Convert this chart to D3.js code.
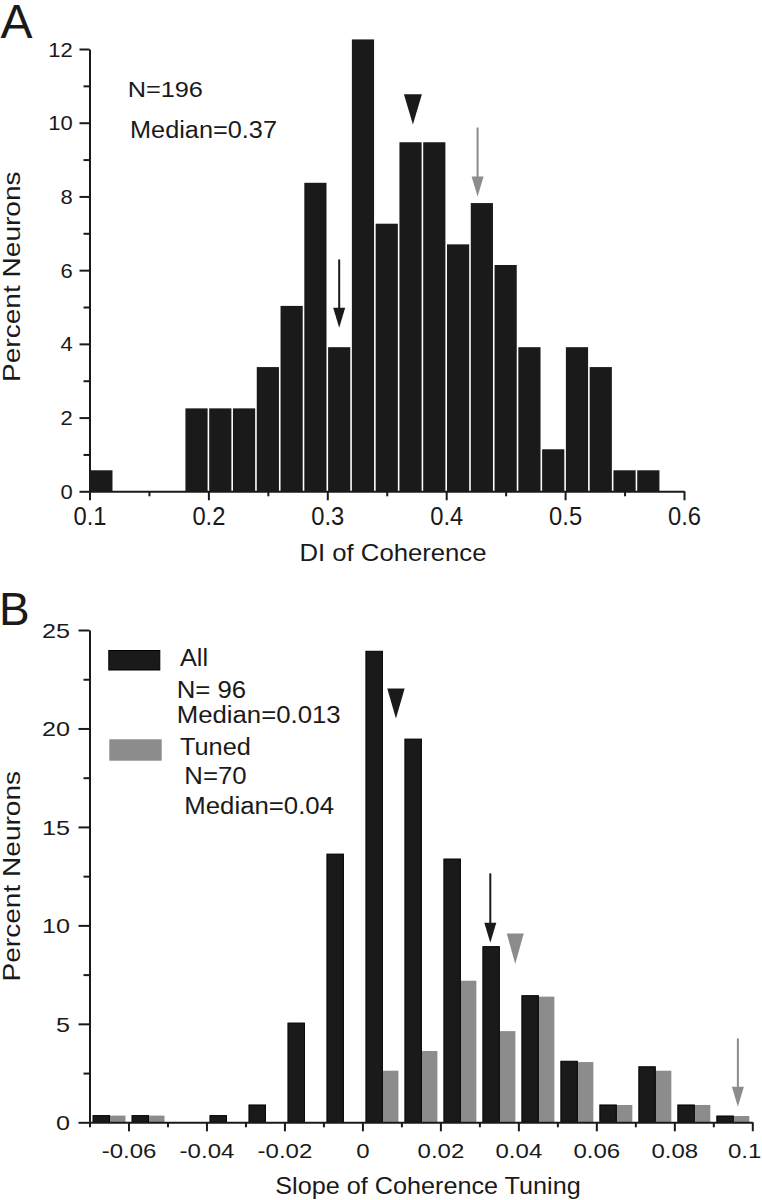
<!DOCTYPE html>
<html>
<head>
<meta charset="utf-8">
<script src="https://cdn.jsdelivr.net/npm/d3@7"></script>
<style>
  html, body { margin: 0; padding: 0; background: #fff; }
  svg { display: block; }
  text { font-family: "Liberation Sans", Arial, Helvetica, sans-serif; fill: #1a1a1a; }
</style>
</head>
<body>
<svg id="chart" width="762" height="1200"></svg>
<script>
// ---------------- Panel A data ----------------
const binStartsA = [0.10,0.12,0.14,0.16,0.18,0.20,0.22,0.24,0.26,0.28,0.30,0.32,0.34,0.36,0.38,0.40,0.42,0.44,0.46,0.48,0.50,0.52,0.54,0.56];
const percentA   = [0.57,0,0,0,2.25,2.25,2.25,3.37,5.03,8.37,3.91,12.26,7.26,9.47,9.47,6.70,7.82,6.14,3.91,1.14,3.91,3.37,0.57,0.57];
const binWidthA = 0.02;
const xTicksA = [0.1,0.2,0.3,0.4,0.5,0.6];
const xMinorA = [0.15,0.25,0.35,0.45,0.55];
const yTicksA = [0,2,4,6,8,10,12];
const yMinorA = [1,3,5,7,9,11];
const notesA = ["N=196", "Median=0.37"];
// markers: [x, yTop, yTip]
const triangleA = [0.372, 10.77, 9.95];
const blackArrowA = [0.31, 6.29, 4.44];
const grayArrowA = [0.4264, 9.87, 8.0];

// ---------------- Panel B data ----------------
const binStartsB = [-0.07,-0.06,-0.05,-0.04,-0.03,-0.02,-0.01,0,0.01,0.02,0.03,0.04,0.05,0.06,0.07,0.08,0.09];
const allB   = [0.34,0.34,0,0.34,0.88,5.04,13.62,23.92,19.46,13.37,8.92,6.43,3.10,0.88,2.82,0.88,0.32];
const tunedB = [0.34,0.34,0,0,0,0,0,2.62,3.62,7.19,4.63,6.38,3.06,0.88,2.62,0.88,0.32];
const binWidthB = 0.01;
const xTicksB = [-0.06,-0.04,-0.02,0,0.02,0.04,0.06,0.08,0.1];
const xMinorB = [-0.07,-0.05,-0.03,-0.01,0.01,0.03,0.05,0.07,0.09];
const yTicksB = [0,5,10,15,20,25];
const yMinorB = [2.5,7.5,12.5,17.5,22.5];
const legendB = [
  {name: "All", lines: ["N= 96", "Median=0.013"]},
  {name: "Tuned", lines: ["N=70", "Median=0.04"]}
];
const triangleAllB = [0.0086, 22.03, 20.5];
const triangleTunedB = [0.0392, 9.59, 8.04];
const blackArrowB = [0.0328, 12.64, 9.12];
const grayArrowB = [0.0963, 4.26, 0.79];

// ---------------- drawing ----------------
const BLACK = "#1a1a1a", GRAY = "#8c8c8c";
const svg = d3.select("#chart");

function stretch(sel, sx) {
  sel.each(function() {
    const L = this.getComputedTextLength();
    d3.select(this).attr("textLength", L * sx).attr("lengthAdjust", "spacingAndGlyphs");
  });
}
function addText(g, str, x, y, size, sx, anchor, rotate) {
  const t = g.append("text").text(str).attr("font-size", size)
    .attr("text-anchor", anchor || "start");
  if (rotate) t.attr("transform", `translate(${x},${y}) rotate(${rotate})`);
  else t.attr("x", x).attr("y", y);
  stretch(t, sx);
  return t;
}
function styleAxis(g, sw) {
  g.select(".domain").attr("stroke", BLACK).attr("stroke-width", sw);
  g.selectAll(".tick line").attr("stroke", BLACK).attr("stroke-width", sw);
}
function arrow(g, x, yTop, yTip, color) {
  const headL = 20, hw = 6;
  g.append("line").attr("x1", x).attr("x2", x).attr("y1", yTop).attr("y2", yTip - headL + 2)
    .attr("stroke", color).attr("stroke-width", 2);
  g.append("path").attr("d", `M${x-hw},${yTip-headL}L${x+hw},${yTip-headL}L${x},${yTip}Z`).attr("fill", color);
}
function triangle(g, x, yTop, yTip, color, hw) {
  g.append("path").attr("d", `M${x-hw},${yTop}L${x+hw},${yTop}L${x},${yTip}Z`).attr("fill", color);
}

// ===== Panel A =====
(function() {
  const x = d3.scaleLinear().domain([0.1, 0.6]).range([89.5, 684]);
  const y = d3.scaleLinear().domain([0, 12]).range([491.3, 49]);
  const g = svg.append("g");

  const bins = binStartsA.map((s, i) => ({s, v: percentA[i]})).filter(d => d.v > 0);
  g.selectAll("rect.bar").data(bins).enter().append("rect")
    .attr("x", d => x(d.s) + 0.8)
    .attr("width", d => x(d.s + binWidthA) - x(d.s) - 1.6)
    .attr("y", d => y(d.v))
    .attr("height", d => y(0) - y(d.v))
    .attr("fill", BLACK);

  // x axis
  const gx = g.append("g").attr("transform", `translate(0,${y(0)})`);
  gx.call(d3.axisBottom(x).tickValues(xTicksA).tickSize(9).tickSizeOuter(0).tickFormat(d3.format("")));
  styleAxis(gx, 2);
  gx.selectAll(".tick text").attr("y", 34).attr("dy", 0).attr("font-size", 25).attr("fill", BLACK)
    .attr("font-family", null).each(function(){ stretch(d3.select(this), 0.95); });
  const gxm = g.append("g").attr("transform", `translate(0,${y(0)})`);
  gxm.call(d3.axisBottom(x).tickValues(xMinorA).tickSize(5).tickFormat(""));
  gxm.select(".domain").remove();
  styleAxis(gxm, 2);

  // y axis
  const gy = g.append("g").attr("transform", `translate(${x(0.1)},0)`);
  gy.call(d3.axisLeft(y).tickValues(yTicksA).tickSize(10).tickSizeOuter(0));
  styleAxis(gy, 2);
  gy.selectAll(".tick text").attr("x", -16.8).attr("dy", "0.35em").attr("font-size", 20).attr("fill", BLACK)
    .attr("font-family", null).each(function(){ stretch(d3.select(this), 1.1); });
  const gym = g.append("g").attr("transform", `translate(${x(0.1)},0)`);
  gym.call(d3.axisLeft(y).tickValues(yMinorA).tickSize(6).tickFormat(""));
  gym.select(".domain").remove();
  styleAxis(gym, 2);

  // titles
  addText(g, "Percent Neurons", 20, 276.7, 23, 1.22, "middle", -90);
  addText(g, "DI of Coherence", 393, 560.7, 24, 1.07, "middle");
  addText(g, "A", 0.5, 38, 48, 1.0, "start");
  addText(g, notesA[0], 127.7, 97.3, 22, 1.15, "start");
  addText(g, notesA[1], 130, 138.3, 23, 1.1, "start");

  // markers
  triangle(g, x(triangleA[0]), y(triangleA[1]), y(triangleA[2]), BLACK, 9);
  arrow(g, x(blackArrowA[0]), y(blackArrowA[1]), y(blackArrowA[2]), BLACK);
  arrow(g, x(grayArrowA[0]), y(grayArrowA[1]), y(grayArrowA[2]), GRAY);
})();

// ===== Panel B =====
(function() {
  const x = d3.scaleLinear().domain([-0.07, 0.1]).range([89.5, 752.3]);
  const y = d3.scaleLinear().domain([0, 25]).range([1122.3, 630]);
  const g = svg.append("g");

  const bins = binStartsB.map((s, i) => ({s, a: allB[i], t: tunedB[i]}));
  // tuned (gray, right half)
  g.selectAll("rect.tuned").data(bins.filter(d => d.t > 0)).enter().append("rect")
    .attr("x", d => x(d.s + binWidthB / 2) + 0.5)
    .attr("width", d => x(d.s + binWidthB) - x(d.s + binWidthB / 2) - 3.5)
    .attr("y", d => y(d.t))
    .attr("height", d => y(0) - y(d.t))
    .attr("fill", GRAY);
  // all (black, left half)
  g.selectAll("rect.all").data(bins.filter(d => d.a > 0)).enter().append("rect")
    .attr("x", d => x(d.s) + 3.5)
    .attr("width", d => x(d.s + binWidthB / 2) - x(d.s) - 3)
    .attr("y", d => y(d.a))
    .attr("height", d => y(0) - y(d.a))
    .attr("fill", BLACK).attr("stroke", "#000").attr("stroke-width", 1);

  // x axis
  const gx = g.append("g").attr("transform", `translate(0,${y(0)})`);
  gx.call(d3.axisBottom(x).tickValues(xTicksB).tickSize(9).tickSizeOuter(0).tickFormat(d3.format("")));
  styleAxis(gx, 2);
  gx.selectAll(".tick text").attr("y", 36).attr("dy", 0).attr("font-size", 20).attr("fill", BLACK)
    .attr("font-family", null).text(d => String(d))
    .each(function(){ stretch(d3.select(this), 1.2); });
  // last label sits at the right edge of the figure
  gx.selectAll(".tick text").filter(d => d === 0.1).attr("text-anchor", "end").attr("x", 8.5);
  const gxm = g.append("g").attr("transform", `translate(0,${y(0)})`);
  gxm.call(d3.axisBottom(x).tickValues(xMinorB).tickSize(5).tickFormat(""));
  gxm.select(".domain").remove();
  styleAxis(gxm, 2);

  // y axis
  const gy = g.append("g").attr("transform", `translate(${x(-0.07)},0)`);
  gy.call(d3.axisLeft(y).tickValues(yTicksB).tickSize(11).tickSizeOuter(0));
  styleAxis(gy, 2);
  gy.selectAll(".tick text").attr("x", -19.5).attr("dy", "0.35em").attr("font-size", 21).attr("fill", BLACK)
    .attr("font-family", null).each(function(){ stretch(d3.select(this), 1.2); });
  const gym = g.append("g").attr("transform", `translate(${x(-0.07)},0)`);
  gym.call(d3.axisLeft(y).tickValues(yMinorB).tickSize(6).tickFormat(""));
  gym.select(".domain").remove();
  styleAxis(gym, 2);

  // titles
  addText(g, "Percent Neurons", 20, 876.2, 23, 1.22, "middle", -90);
  addText(g, "Slope of Coherence Tuning", 428, 1194, 24, 1.05, "middle");
  addText(g, "B", -1, 625, 46, 1.0, "start");

  // legend
  g.append("rect").attr("x", 108.8).attr("y", 650.5).attr("width", 51).attr("height", 19.5)
    .attr("fill", BLACK).attr("stroke", "#000").attr("stroke-width", 1);
  g.append("rect").attr("x", 109.3).attr("y", 739.3).attr("width", 52.4).attr("height", 21.4)
    .attr("fill", GRAY);
  addText(g, legendB[0].name, 180, 665.7, 23, 1.1, "start");
  addText(g, legendB[0].lines[0], 176.7, 698.3, 23, 1.12, "start");
  addText(g, legendB[0].lines[1], 176.7, 723.3, 23, 1.12, "start");
  addText(g, legendB[1].name, 180, 755, 23, 1.1, "start");
  addText(g, legendB[1].lines[0], 184.3, 784, 23, 1.12, "start");
  addText(g, legendB[1].lines[1], 184.3, 814.3, 23, 1.12, "start");

  // markers
  triangle(g, x(triangleAllB[0]), y(triangleAllB[1]), y(triangleAllB[2]), BLACK, 8.7);
  triangle(g, x(triangleTunedB[0]), y(triangleTunedB[1]), y(triangleTunedB[2]), GRAY, 8.5);
  arrow(g, x(blackArrowB[0]), y(blackArrowB[1]), y(blackArrowB[2]), BLACK);
  arrow(g, x(grayArrowB[0]), y(grayArrowB[1]), y(grayArrowB[2]), GRAY);
})();
</script>
</body>
</html>
